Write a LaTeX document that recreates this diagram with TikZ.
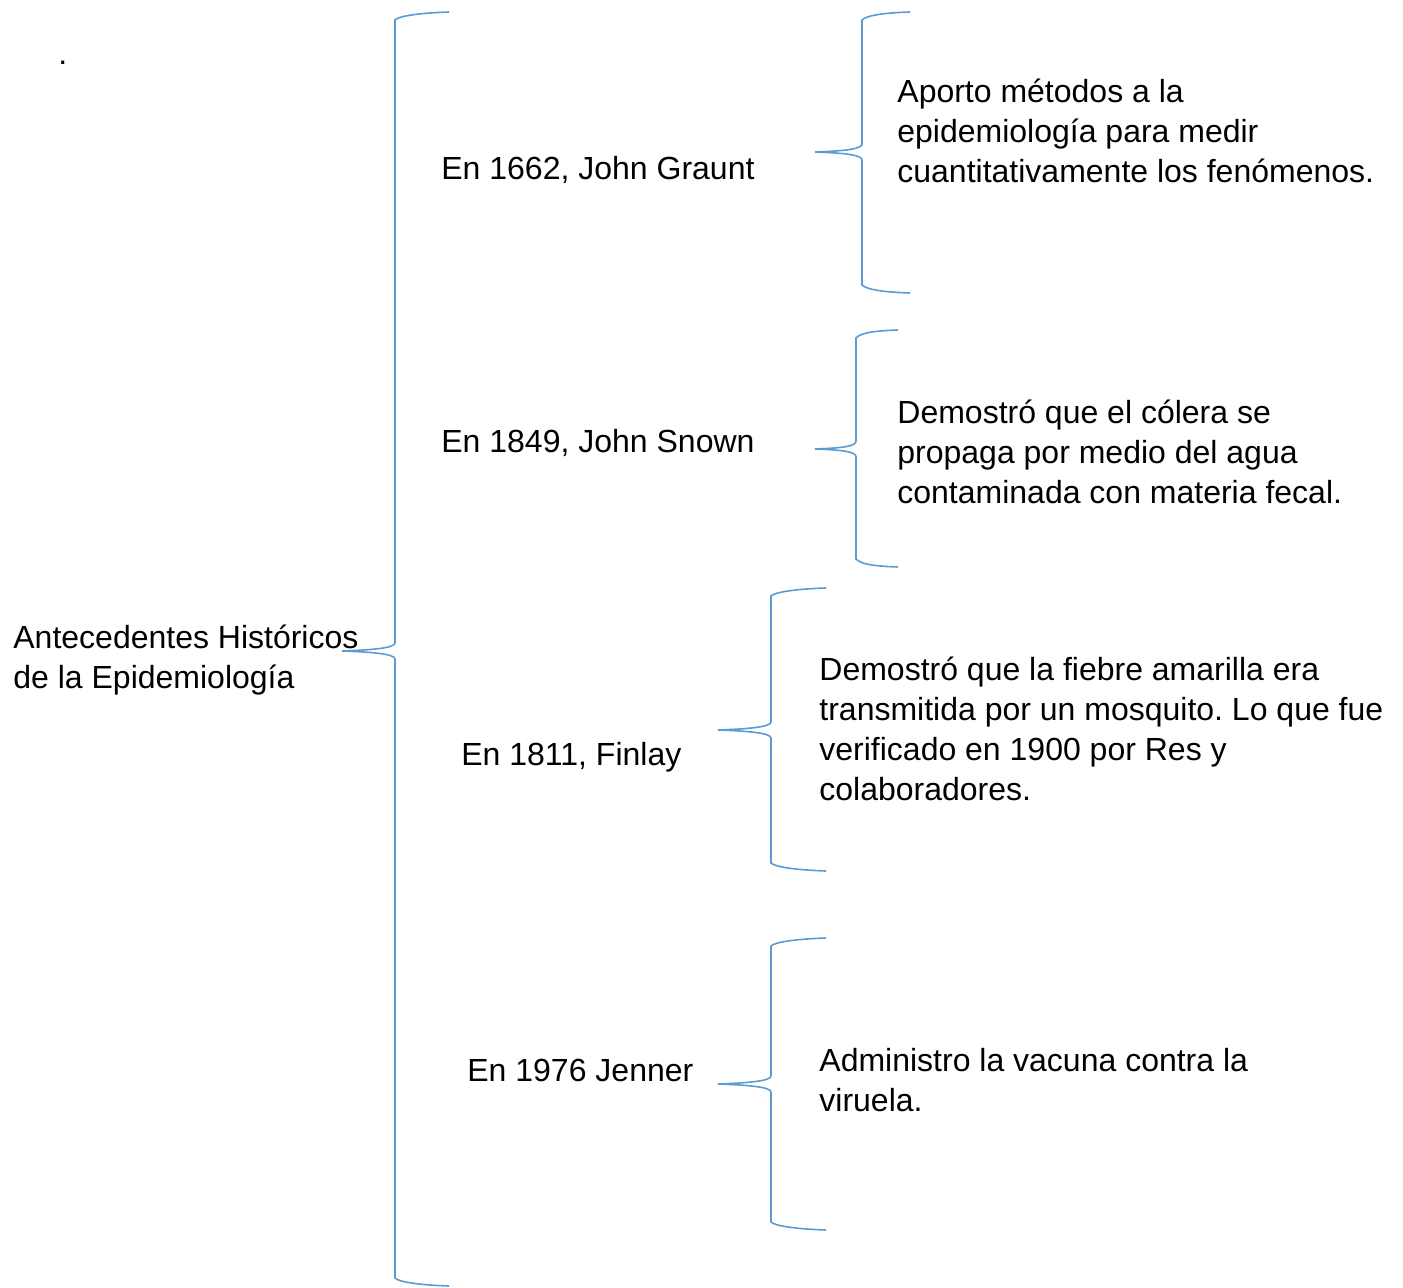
\documentclass[tikz,border=0pt]{standalone}
\usepackage{fontspec}
\setmainfont{Liberation Sans}
\usepackage{xcolor}
\definecolor{azulllave}{RGB}{91,155,213}
\frenchspacing

% llave: #1 x extremos, #2 x lomo, #3 x punta, #4 y arriba, #5 y punta, #6 y abajo
\newcommand{\llave}[6]{%
  \draw[llave] (#1,#4) .. controls (#1-30,#4+1) and (#2+4,#4+4) .. (#2,#4+8)
    -- (#2,#5-8) .. controls (#2,#5-3) and (#3+30,#5-1) .. (#3,#5)
    .. controls (#3+30,#5+1) and (#2,#5+3) .. (#2,#5+8)
    -- (#2,#6-8) .. controls (#2+4,#6-4) and (#1-30,#6-1) .. (#1,#6);}

\tikzset{
  llave/.style={draw=azulllave, line width=0.8pt},
  texto/.style={anchor=west, inner sep=0pt, align=left, font=\fontsize{16}{20}\selectfont},
}

\begin{document}
\begin{tikzpicture}[x=0.5pt, y=-0.5pt]
  \useasboundingbox (0,0) rectangle (1403,1288);

  \node[texto, anchor=base west] (punto) at (58,65) {.};
  \node[texto] (titulo) at (13,660) {Antecedentes Históricos\\de la Epidemiología};

  % autores
  \node[texto] (graunt) at (441,170) {En 1662, John Graunt};
  \node[texto] (snow) at (441,443) {En 1849, John Snown};
  \node[texto] (finlay) at (461,757) {En 1811, Finlay};
  \node[texto] (jenner) at (467,1070) {En 1976 Jenner};

  % aportes
  \node[texto] (aporte1) at (897,131) {Aporto métodos a la\\epidemiología para medir\\cuantitativamente los fenómenos.};
  \node[texto] (aporte2) at (897,452) {Demostró que el cólera se\\propaga por medio del agua\\contaminada con materia fecal.};
  \node[texto] (aporte3) at (819,729) {Demostró que la fiebre amarilla era\\transmitida por un mosquito. Lo que fue\\verificado en 1900 por Res y\\colaboradores.};
  \node[texto] (aporte4) at (819,1080) {Administro la vacuna contra la\\viruela.};

  % llaves
  \llave{449}{395}{342}{12}{651}{1286}
  \llave{910}{862}{815}{12}{152}{293}
  \llave{898}{856}{815}{330}{449}{567}
  \llave{826}{771}{718}{588}{730}{871}
  \llave{826}{771}{718}{938}{1084}{1230}
\end{tikzpicture}
\end{document}
